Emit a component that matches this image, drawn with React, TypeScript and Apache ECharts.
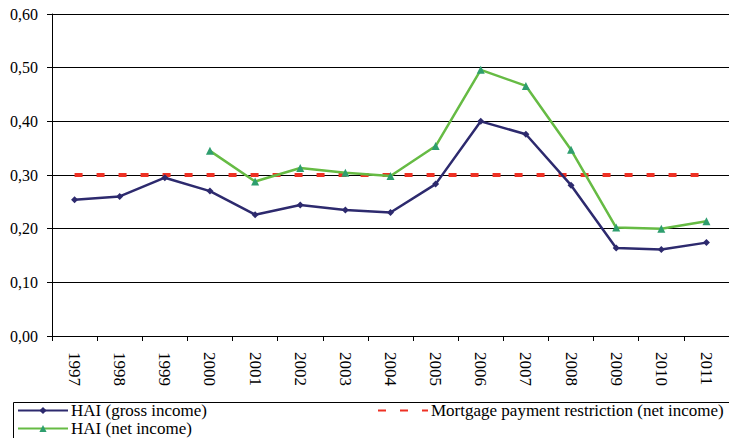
import React, { useEffect, useRef } from "react";
import * as echarts from "echarts";

const years = ["1997","1998","1999","2000","2001","2002","2003","2004","2005","2006","2007","2008","2009","2010","2011"];
const grossIncome = [0.254, 0.260, 0.295, 0.270, 0.226, 0.244, 0.235, 0.230, 0.283, 0.400, 0.376, 0.281, 0.164, 0.161, 0.174];
const netIncome = [null, null, null, 0.345, 0.288, 0.313, 0.304, 0.298, 0.354, 0.496, 0.466, 0.347, 0.202, 0.200, 0.214];
const mortgageRestriction = [0.30, 0.30, 0.30, 0.30, 0.30, 0.30, 0.30, 0.30, 0.30, 0.30, 0.30, 0.30, 0.30, 0.30, 0.30];

const FONT = "Liberation Serif";

export default function App() {
  const ref = useRef<HTMLDivElement>(null);
  useEffect(() => {
    if (!ref.current) return;
    const chart = echarts.init(ref.current, null, { renderer: "svg" });
    chart.setOption({
      animation: false,
      backgroundColor: "#fff",
      textStyle: { fontFamily: FONT },
      grid: { left: 52, top: 14, bottom: 102, right: -10, containLabel: false },
      xAxis: {
        type: "category",
        data: years,
        boundaryGap: true,
        axisLine: { show: true, lineStyle: { color: "#000", width: 1 } },
        axisTick: { show: true, length: 5, interval: 0, lineStyle: { color: "#000" } },
        axisLabel: { rotate: -90, interval: 0, margin: 16, fontFamily: FONT, fontSize: 17, color: "#000" },
        splitLine: { show: false },
      },
      yAxis: {
        type: "value",
        min: 0,
        max: 0.6,
        interval: 0.1,
        axisLine: { show: true, lineStyle: { color: "#000", width: 1 } },
        axisTick: { show: true, length: 5, lineStyle: { color: "#000" } },
        axisLabel: {
          margin: 14,
          fontFamily: FONT,
          fontSize: 16,
          color: "#000",
          formatter: (v: number) => v.toFixed(2).replace(".", ","),
        },
        splitLine: { show: true, lineStyle: { color: "#000", width: 1 } },
      },
      legend: [
        {
          orient: "vertical",
          left: 17,
          top: 402,
          itemWidth: 50,
          itemHeight: 9,
          itemGap: 1,
          padding: 0,
          textStyle: { fontFamily: FONT, fontSize: 17, color: "#000", padding: [0, 0, 0, -2] },
          data: ["HAI (gross income)", "HAI (net income)"],
        },
        {
          left: 377,
          top: 402,
          itemWidth: 50,
          itemHeight: 9,
          padding: 0,
          textStyle: { fontFamily: FONT, fontSize: 17, color: "#000", padding: [0, 0, 0, -2] },
          data: [
            {
              name: "Mortgage payment restriction (net income)",
              itemStyle: { color: "rgba(0,0,0,0)", borderWidth: 0 },
            },
          ],
        },
      ],
      graphic: [
        {
          type: "rect",
          left: 11,
          top: 400,
          shape: { width: 740, height: 60 },
          style: { fill: "none", stroke: "#000", lineWidth: 1 },
          silent: true,
        },
      ],
      series: [
        {
          name: "Mortgage payment restriction (net income)",
          type: "line",
          data: mortgageRestriction,
          symbol: "none",
          lineStyle: { color: "#ee3124", width: 4, type: [8, 14] },
          itemStyle: { color: "#ee3124" },
          z: 2,
        },
        {
          name: "HAI (gross income)",
          type: "line",
          data: grossIncome,
          symbol: "diamond",
          symbolSize: 7,
          lineStyle: { color: "#2d2a6e", width: 2.5 },
          itemStyle: { color: "#2d2a6e" },
          z: 3,
        },
        {
          name: "HAI (net income)",
          type: "line",
          data: netIncome,
          symbol: "triangle",
          symbolSize: 8,
          connectNulls: false,
          lineStyle: { color: "#66bb44", width: 2.5 },
          itemStyle: { color: "#2e9e6e" },
          z: 4,
        },
      ],
    });
    return () => chart.dispose();
  }, []);
  return <div ref={ref} style={{ width: 729, height: 438, position: "absolute", left: 0, top: 0 }} />;
}
